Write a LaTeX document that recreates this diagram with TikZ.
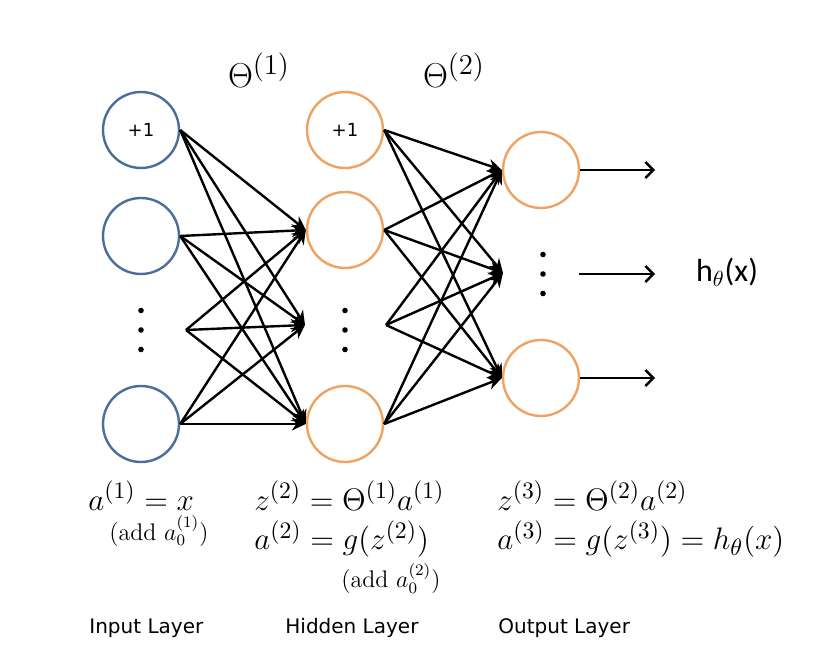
\documentclass[tikz,border=0pt]{standalone}
\usepackage{amsmath,amssymb}
\usepackage{fontspec}
\usepackage{tikz}
\usetikzlibrary{arrows.meta, positioning, calc}
\newfontfamily\labelfont{DejaVu Sans}
\newfontfamily\hypfont{Carlito}
\definecolor{NetBlue}{HTML}{4A6E9B}
\definecolor{NetOrange}{HTML}{EFA261}
\definecolor{NetBlack}{HTML}{000000}
\newcommand{\layersup}[1]{\text{\fontsize{14}{16}\selectfont$(#1)$}}
\tikzset{
    % Unit styles
    inputunit/.style={
        circle,
        draw=NetBlue,
        line width=1.2pt,
        minimum size=38pt,
        inner sep=0pt,
        font=\labelfont\fontsize{9}{11}\selectfont
    },
    hiddenunit/.style={
        circle,
        draw=NetOrange,
        line width=1.2pt,
        minimum size=38pt,
        inner sep=0pt,
        font=\labelfont\fontsize{9}{11}\selectfont
    },
    % Arrow styles
    edgearrow/.style={
        -{Stealth[length=7pt,width=6.5pt]},
        line width=1.2pt,
        NetBlack
    },
    outarrow/.style={
        -{Straight Barb[length=4pt,width=8pt]},
        line width=1.2pt,
        NetBlack
    },
    % Text styles
    thetalabel/.style={
        font=\fontsize{16}{19}\selectfont
    },
    eqlabel/.style={
        anchor=base west,
        inner sep=0pt,
        scale=1.08,
        font=\fontsize{15.5}{18}\selectfont
    },
    notelabel/.style={
        anchor=base west,
        inner sep=0pt,
        font=\fontsize{12}{14}\selectfont
    },
    layerlabel/.style={
        anchor=base west,
        inner sep=0pt,
        font=\labelfont\fontsize{10}{12}\selectfont
    }
}

\begin{document}
\begin{tikzpicture}[x=0.5pt, y=-0.5pt]
    \useasboundingbox (0,0) rectangle (815,668);

    % Weight labels
    \node[thetalabel] (theta1) at (259,70) {$\Theta^{\layersup{1}}$};
    \node[thetalabel] (theta2) at (454,70) {$\Theta^{\layersup{2}}$};

    % Input layer
    \node[inputunit] (in1) at (141,130) {+1};
    \node[inputunit] (in2) at (141,236) {};
    \node[inputunit] (in3) at (141,424) {};
    \coordinate (ipt) at (186,330);
    \foreach \dy in {-19.5,0,19.5}
        \fill (141,330+\dy) circle (1.4pt);

    % Hidden layer
    \node[hiddenunit] (h1) at (345,130) {+1};
    \node[hiddenunit] (h2) at (345,230) {};
    \node[hiddenunit] (h3) at (345,424) {};
    \coordinate (hpt) at (305,325);
    \coordinate (hsrc) at (386,325);
    \foreach \dy in {-19.5,0,19.5}
        \fill (345,330+\dy) circle (1.4pt);

    % Output layer
    \node[hiddenunit] (o1) at (541,170) {};
    \node[hiddenunit] (o3) at (541,378) {};
    \coordinate (opt) at (503,273);
    \coordinate (osrc) at (579,274);
    \foreach \dy in {-19.5,0,19.5}
        \fill (543,274+\dy) circle (1.4pt);

    % Output ends
    \coordinate (end1) at (655,170);
    \coordinate (end2) at (655,274);
    \coordinate (end3) at (655,378);
    \node[font=\hypfont\fontsize{16}{18}\selectfont] (hyp) at (727,272) {h$_\theta$(x)};

    % Arrows input -> hidden
    \draw[edgearrow] (in1.east) -- (h2.west);
    \draw[edgearrow] (in1.east) -- (hpt);
    \draw[edgearrow] (in1.east) -- (h3.west);
    \draw[edgearrow] (in2.east) -- (h2.west);
    \draw[edgearrow] (in2.east) -- (hpt);
    \draw[edgearrow] (in2.east) -- (h3.west);
    \draw[edgearrow] (ipt) -- (h2.west);
    \draw[edgearrow] (ipt) -- (hpt);
    \draw[edgearrow] (ipt) -- (h3.west);
    \draw[edgearrow] (in3.east) -- (h2.west);
    \draw[edgearrow] (in3.east) -- (hpt);
    \draw[edgearrow] (in3.east) -- (h3.west);

    % Arrows hidden -> output
    \draw[edgearrow] (h1.east) -- (o1.west);
    \draw[edgearrow] (h1.east) -- (opt);
    \draw[edgearrow] (h1.east) -- (o3.west);
    \draw[edgearrow] (h2.east) -- (o1.west);
    \draw[edgearrow] (h2.east) -- (opt);
    \draw[edgearrow] (h2.east) -- (o3.west);
    \draw[edgearrow] (hsrc) -- (o1.west);
    \draw[edgearrow] (hsrc) -- (opt);
    \draw[edgearrow] (hsrc) -- (o3.west);
    \draw[edgearrow] (h3.east) -- (o1.west);
    \draw[edgearrow] (h3.east) -- (opt);
    \draw[edgearrow] (h3.east) -- (o3.west);

    % Arrows out
    \draw[outarrow] (o1.east) -- (end1);
    \draw[outarrow] (osrc) -- (end2);
    \draw[outarrow] (o3.east) -- (end3);

    % Equations
    \node[eqlabel] (eqin) at (88,510) {$a^{(1)} = x$};
    \node[notelabel] (addin) at (109,540) {(add $a_0^{(1)}$)};
    \node[eqlabel] (eqz2) at (254,510) {$z^{(2)} = \Theta^{(1)}a^{(1)}$};
    \node[eqlabel] (eqa2) at (254,550) {$a^{(2)} = g(z^{(2)})$};
    \node[notelabel] (addhid) at (341,588) {(add $a_0^{(2)}$)};
    \node[eqlabel] (eqz3) at (497,510) {$z^{(3)} = \Theta^{(2)}a^{(2)}$};
    \node[eqlabel] (eqa3) at (497,550) {$a^{(3)} = g(z^{(3)}) = h_\theta(x)$};

    % Layer names
    \node[layerlabel] (lin) at (89,633) {Input Layer};
    \node[layerlabel] (lhid) at (285,633) {Hidden Layer};
    \node[layerlabel] (lout) at (498,633) {Output Layer};
\end{tikzpicture}
\end{document}
